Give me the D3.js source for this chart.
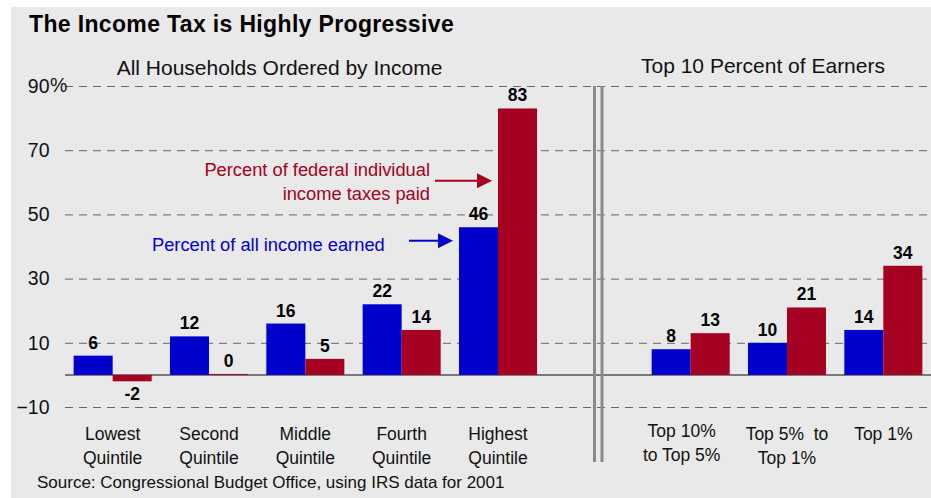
<!DOCTYPE html>
<html>
<head>
<meta charset="utf-8">
<script src="https://cdn.jsdelivr.net/npm/d3@7"></script>
<style>
  body { margin: 0; background: #fff; }
  svg text { font-family: "Liberation Sans", Arial, sans-serif; }
</style>
</head>
<body>
<div id="viz"></div>
<script>
// groups, two lines of label each
const quintiles = [['Lowest', 'Quintile'], ['Second', 'Quintile'], ['Middle', 'Quintile'], ['Fourth', 'Quintile'], ['Highest', 'Quintile']];
const topGroups = [['Top 10%', 'to Top 5%'], ['Top 5%  to', 'Top 1%'], ['Top 1%']];

// percent of all income earned / percent of federal individual income taxes paid
const incomeQuint = [6, 12, 16, 22, 46];
const taxQuint = [-2, 0.3, 5, 14, 83];
const incomeTop = [8, 10, 14];
const taxTop = [13, 21, 34];

const yTicks = [-10, 10, 30, 50, 70, 90];

const w = 931;
const h = 498;
const blue = '#0000cc';
const red = '#a50021';

const svg = d3.select('#viz').
append('svg').
attr('width', w).
attr('height', h);

svg.append('rect').
attr('x', 11).
attr('y', 7).
attr('width', w - 11).
attr('height', h - 7).
attr('fill', '#e9e9e9');

// build rows for both panels, with an empty slot between them
const rows = [];
quintiles.forEach((lab, i) => rows.push({ key: 'q' + i, lines: lab, inc: incomeQuint[i], tax: taxQuint[i] }));
topGroups.forEach((lab, i) => rows.push({ key: 't' + i, lines: lab, inc: incomeTop[i], tax: taxTop[i] }));

const keys = rows.map(d => d.key);
keys.splice(quintiles.length, 0, 'gap');

const xScale = d3.scaleBand().
domain(keys).
range([64.5, 931.5]);

const yScale = d3.scaleLinear().
domain([-10, 90]).
range([407, 86]);

const bw = xScale.bandwidth() * 0.405;
const mid = k => xScale(k) + xScale.bandwidth() / 2;

// gridlines + tick labels
const yAxis = d3.axisLeft(yScale).
tickValues(yTicks).
tickSize(-(w - 65)).
tickPadding(15);

const gy = svg.append('g').
attr('transform', 'translate(65,0)').
call(yAxis);

gy.select('.domain').remove();
gy.selectAll('.tick line').
attr('stroke', '#666').
attr('stroke-width', 1).
attr('stroke-dasharray', '8,6');
gy.selectAll('.tick text').
attr('font-size', 19.5).
attr('fill', '#111').
attr('x', -15.5);

svg.append('text').
attr('x', 50).
attr('y', yScale(90)).
attr('dy', '0.32em').
attr('font-size', 19.5).
attr('fill', '#111').
text('%');

// zero line
svg.append('line').
attr('x1', 65).
attr('x2', w).
attr('y1', yScale(0)).
attr('y2', yScale(0)).
attr('stroke', '#555').
attr('stroke-width', 1.5);

// bars
svg.selectAll('rect.inc').
data(rows).
enter().
append('rect').
attr('class', 'inc').
attr('x', d => mid(d.key) - bw).
attr('y', d => yScale(Math.max(0, d.inc))).
attr('width', bw).
attr('height', d => Math.abs(yScale(d.inc) - yScale(0))).
attr('fill', blue);

svg.selectAll('rect.tax').
data(rows).
enter().
append('rect').
attr('class', 'tax').
attr('x', d => mid(d.key)).
attr('y', d => yScale(Math.max(0, d.tax))).
attr('width', bw).
attr('height', d => Math.abs(yScale(d.tax) - yScale(0))).
attr('fill', red);

// value labels
const valueLabel = (v, cx) => {
  svg.append('text').
  attr('x', cx).
  attr('y', v < 0 ? yScale(v) + 18.5 : yScale(v) - 7).
  attr('text-anchor', 'middle').
  attr('font-size', 17.5).
  attr('font-weight', 'bold').
  attr('fill', '#000').
  text(Math.round(v));
};
rows.forEach(d => {
  valueLabel(d.inc, mid(d.key) - bw / 2);
  valueLabel(d.tax, mid(d.key) + bw / 2);
});

// category labels
rows.forEach((d, i) => {
  const shift = d.key === 't0' ? -9 : 0;
  const t = svg.append('text').
  attr('text-anchor', 'middle').
  attr('font-size', 17.5).
  attr('fill', '#111').
  style('white-space', 'pre');
  d.lines.forEach((ln, j) => {
    t.append('tspan').
    attr('x', mid(d.key) + shift).
    attr('y', (d.key === 't0' ? 437 : 440) + j * 24).
    text(ln);
  });
});

// divider between the panels
[593, 600.5].forEach(x => {
  svg.append('rect').
  attr('x', x).
  attr('y', yScale(90)).
  attr('width', 3).
  attr('height', 462 - yScale(90)).
  attr('fill', '#8a8a8a');
});

// titles
svg.append('text').
attr('x', 29).
attr('y', 32).
attr('font-size', 23).
attr('font-weight', 'bold').
attr('letter-spacing', 0.35).
attr('fill', '#000').
text('The Income Tax is Highly Progressive');

svg.append('text').
attr('x', 279.5).
attr('y', 75).
attr('text-anchor', 'middle').
attr('font-size', 21).
attr('fill', '#111').
text('All Households Ordered by Income');

svg.append('text').
attr('x', 763).
attr('y', 73).
attr('text-anchor', 'middle').
attr('font-size', 21).
attr('fill', '#111').
text('Top 10 Percent of Earners');

svg.append('text').
attr('x', 37).
attr('y', 488).
attr('font-size', 17).
attr('fill', '#111').
text('Source: Congressional Budget Office, using IRS data for 2001');

// annotations with arrows pointing at the highest quintile bars
const hiX = mid('q4');

const arrow = (x1, x2, y, color) => {
  svg.append('line').
  attr('x1', x1).
  attr('x2', x2 - 12).
  attr('y1', y).
  attr('y2', y).
  attr('stroke', color).
  attr('stroke-width', 2);
  svg.append('path').
  attr('d', `M${x2 - 15},${y - 7.5}L${x2},${y}L${x2 - 15},${y + 7.5}Z`).
  attr('fill', color);
};

arrow(435, hiX - 6, yScale(60.5), red);
arrow(409, hiX - bw - 6, yScale(41.8), blue);

const redNote = svg.append('text').
attr('text-anchor', 'end').
attr('font-size', 18.3).
attr('fill', red);
redNote.append('tspan').attr('x', 430).attr('y', 176).text('Percent of federal individual');
redNote.append('tspan').attr('x', 430).attr('y', 200).text('income taxes paid');

svg.append('text').
attr('x', 152).
attr('y', 251).
attr('font-size', 18.3).
attr('fill', blue).
text('Percent of all income earned');
</script>
</body>
</html>
